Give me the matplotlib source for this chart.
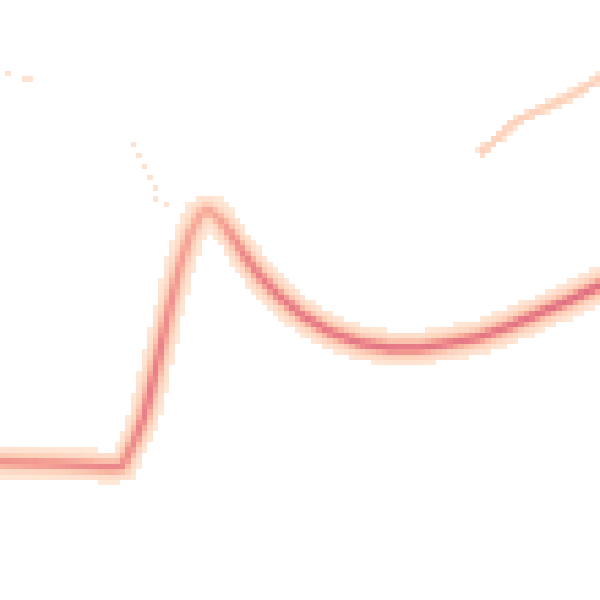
import numpy as np
import matplotlib.pyplot as plt
from matplotlib.colors import LinearSegmentedColormap

# picture is 600 px square, binned in 110 x 110 cells
size = 600
n_bins = 110

# main trace: centre line (x, y from top, px)
main_x = [0, 60, 110, 122, 128, 135, 143, 152, 161, 170, 180, 190, 200, 207, 214,
          222, 232, 245, 260, 280, 300, 330, 360, 390, 420, 450, 480, 510, 540,
          570, 600]
main_y = [462, 464, 467, 466, 455, 440, 420, 385, 345, 305, 265, 235, 215, 210, 214,
          222, 236, 256, 276, 297, 314, 332, 343, 348, 348, 343, 337, 326, 313,
          300, 285]
main_peak = [0.7, 0.72, 0.76, 0.74, 0.72, 0.75, 0.8, 0.82, 0.78, 0.7, 0.64, 0.58, 0.55, 0.56, 0.56,
             0.6, 0.68, 0.76, 0.8, 0.84, 0.85, 0.85, 0.86, 0.88, 0.86, 0.85, 0.86, 0.88, 0.9,
             0.92, 0.92]
main_sigma = [11, 11, 11, 11, 10, 10, 10, 10, 10, 10, 11, 12, 13, 13, 13,
              12, 11, 11, 11, 11, 11, 11, 11, 11, 11, 11, 11, 11, 11,
              11, 11]

# faint trace top right
upper_x = [482, 490, 500, 510, 522, 540, 556, 572, 586, 600]
upper_y = [152, 145, 136, 126, 118, 110, 103, 95, 87, 78]

# single faint cells
dots_x = [8, 25, 30, 132, 137, 143, 148, 153, 154, 158, 164]
dots_y = [73, 78, 78, 143, 153, 165, 175, 186, 190, 198, 207]
dot_level = 0.14

edges = np.linspace(0, size, n_bins + 1)
centers = (edges[:-1] + edges[1:]) / 2
cx, cy = np.meshgrid(centers, centers)


def trace_density(xs, ys, peaks, sigmas, core=4.0):
    grid = np.zeros_like(cx)
    for i in range(len(xs) - 1):
        for t in np.linspace(0, 1, 30):
            px = xs[i] + t * (xs[i + 1] - xs[i])
            py = ys[i] + t * (ys[i + 1] - ys[i])
            pk = peaks[i] + t * (peaks[i + 1] - peaks[i])
            s = sigmas[i] + t * (sigmas[i + 1] - sigmas[i])
            d2 = (cx - px) ** 2 + (cy - py) ** 2
            g = pk * (0.6 * np.exp(-d2 / (2 * core ** 2)) + 0.4 * np.exp(-d2 / (2 * s ** 2)))
            grid = np.maximum(grid, g)
    return grid


H = trace_density(main_x, main_y, main_peak, main_sigma)
H = np.maximum(H, trace_density(upper_x, upper_y,
                                [0.3] * len(upper_x), [4] * len(upper_x), core=3.5))
for x, y in zip(dots_x, dots_y):
    j = min(int(x / size * n_bins), n_bins - 1)
    i = min(int(y / size * n_bins), n_bins - 1)
    H[i, j] = max(H[i, j], dot_level)

cmap = LinearSegmentedColormap.from_list(
    'peach', ['#fee8d8', '#fdd3bd', '#f9b8a3', '#f39a92', '#e77c88', '#d9667c'])

fig = plt.figure(figsize=(6, 6), dpi=100)
ax = fig.add_axes([0, 0, 1, 1])
ax.pcolormesh(edges, edges, np.ma.masked_less(H, 0.1), cmap=cmap, vmin=0.1, vmax=1.0)
ax.set_xlim(0, size)
ax.set_ylim(size, 0)
ax.axis('off')
fig.savefig('out.png')
